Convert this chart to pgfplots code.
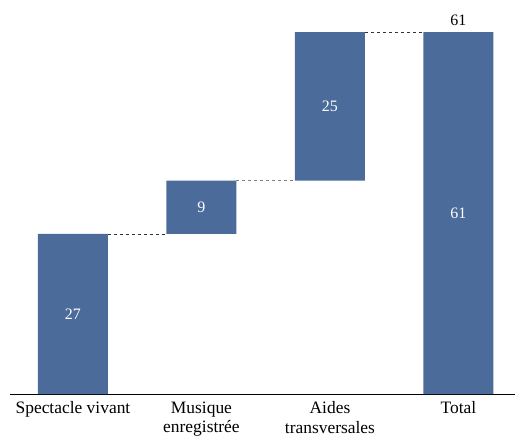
\documentclass[border=0pt]{standalone}
\usepackage{fontspec}
\setmainfont{Liberation Serif}
\usepackage{pgfplots}
\pgfplotsset{compat=1.18}
\definecolor{barblue}{HTML}{4B6B9A}
\pgfplotsset{frame/.style={
  at={(0,0)}, anchor=south west,
  scale only axis,
  width=505bp, height=392bp,
  xmin=-0.49, xmax=3.44,
  ymin=0, ymax=66.1,
  clip=false,
}}
\begin{document}
\begin{tikzpicture}
\useasboundingbox (-10bp,-46bp) rectangle (505bp,394bp);
\begin{axis}[
  frame,
  ybar stacked,
  bar width=70bp,
  axis x line*=bottom,
  axis line style={-, black, line width=0.6pt},
  hide y axis,
  xtick={0,1,2,3},
  xticklabels={Spectacle vivant, Musique\\enregistrée, Aides\\transversales, Total},
  xticklabel style={align=center, font=\fontsize{17.5}{20}\selectfont, text=black, yshift=-4bp},
  major tick length=0pt,
]
% base invisible
\addplot[draw=none, fill=none] coordinates {(0,0) (1,27) (2,36) (3,0)};
% visible steps
\addplot[draw=none, fill=barblue] coordinates {(0,27) (1,9) (2,25) (3,61)};
\end{axis}
\begin{axis}[frame, hide axis]
% labels inside bars
\addplot[only marks, mark=none, nodes near coords, point meta=explicit symbolic,
  nodes near coords align=center, every node near coord/.style={text=white, font=\fontsize{16}{18}\selectfont, anchor=center}]
  table[meta=lab] {
x y lab
0 13.5 27
1 31.5 9
2 48.5 25
3 30.5 61
};
% total label on top
\addplot[only marks, mark=none, nodes near coords, point meta=explicit symbolic,
  every node near coord/.style={text=black, font=\fontsize{16}{18}\selectfont, anchor=south, yshift=3bp}]
  table[meta=lab] {
x y lab
3 61 61
};
% connectors
\addplot[sharp plot, no marks, dashed, gray!40!black, line width=0.7pt] coordinates {(0.272,27) (0.728,27)};
\addplot[sharp plot, no marks, dashed, gray, line width=0.7pt] coordinates {(1.272,36) (1.728,36)};
\addplot[sharp plot, no marks, dashed, gray!40!black, line width=0.7pt] coordinates {(2.272,61) (2.728,61)};
\end{axis}
\end{tikzpicture}
\end{document}
